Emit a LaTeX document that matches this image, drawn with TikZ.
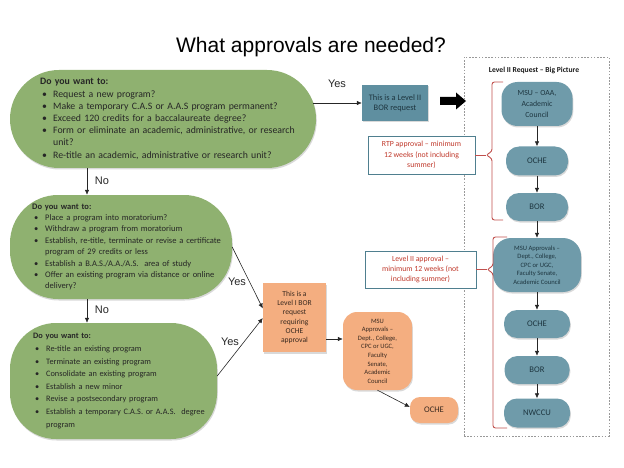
\documentclass[tikz,border=0pt]{standalone}
\usepackage{fontspec}
\setmainfont{Carlito}
\newfontfamily\arialf{Liberation Sans}
\usetikzlibrary{arrows.meta,calc,shadows}
\definecolor{gfill}{HTML}{8FB170}
\definecolor{tfill}{HTML}{6F9BAA}
\definecolor{trect}{HTML}{5F8FA0}
\definecolor{ofill}{HTML}{F4AE80}
\definecolor{rline}{HTML}{C0504D}
\definecolor{rtext}{HTML}{C0392B}
\definecolor{bline}{HTML}{4F7F8F}
\definecolor{gtxt}{HTML}{262626}
\definecolor{ttxt}{HTML}{1E3640}
\definecolor{otxt}{HTML}{3A2A20}
\newcommand\bitem[1]{\par\hangindent=13pt\hangafter=1\noindent\hspace*{2pt}\makebox[11pt][l]{\textbullet}#1\par}
\tikzset{
  softshadow/.style={drop shadow={fill=black, opacity=0.15, shadow xshift=0.8pt, shadow yshift=-1.5pt}},
  gshape/.style={fill=gfill, draw=none, inner sep=0pt, softshadow},
  gtext/.style={inner sep=0pt, align=left, text=gtxt, anchor=west},
  tbox/.style={fill=tfill, rounded corners=13pt, inner sep=0pt, align=center, text=ttxt,
    font=\fontsize{8.6}{10}\selectfont, softshadow},
  obox/.style={fill=ofill, inner sep=0pt, align=center, text=otxt, softshadow},
  rbox/.style={draw=bline, line width=0.8pt, fill=white, inner sep=0pt, align=center,
    text=rtext, font=\fontsize{7.8}{10.2}\selectfont},
  arr/.style={draw=black!85, line width=0.6pt, -{Latex[length=5pt,width=4.5pt]}},
  lbl/.style={font=\arialf\fontsize{11}{13}\selectfont, text=black!85, inner sep=0pt},
  brk/.style={draw=rline, line width=0.9pt, rounded corners=2.5pt}
}
\begin{document}
\begin{tikzpicture}[x=1pt,y=-1pt]
\useasboundingbox (0,0) rectangle (624,468);

% title
\node[font=\arialf\fontsize{21}{25}\selectfont] (title) at (311,47) {What approvals are needed?};

% green question boxes
\node[gshape, minimum width=306pt, minimum height=98pt, rounded corners=49pt] (q1) at (163,119) {};
\node[gtext, text width=270pt, font=\fontsize{9.8}{12.2}\selectfont] (q1t) at (40,119) {%
\textbf{Do you want to:}
\bitem{Request a new program?}
\bitem{Make a temporary C.A.S or A.A.S program permanent?}
\bitem{Exceed 120 credits for a\ baccalaureate degree?}
\bitem{Form or\ eliminate an academic, administrative, or research\newline unit?}
\bitem{Re-title an academic, administrative or research unit?}};

\node[gshape, minimum width=222pt, minimum height=104pt, rounded corners=48pt] (q2) at (121,247) {};
\node[gtext, text width=200pt, font=\fontsize{8.5}{11.4}\selectfont] (q2t) at (32,247) {%
\textbf{Do you want to:}
\bitem{Place a program into moratorium?}
\bitem{Withdraw a program from moratorium}
\bitem{Establish, re-title, terminate or revise a certificate\newline program of 29 credits or less}
\bitem{Establish a B.A.S./A.A./A.S.\ \ area of study}
\bitem{Offer an existing program via distance or online\newline delivery?}};

\node[gshape, minimum width=207pt, minimum height=116pt, rounded corners=46pt] (q3) at (113.5,381) {};
\node[gtext, text width=190pt, font=\fontsize{8.3}{12.6}\selectfont] (q3t) at (33,381) {%
\textbf{Do you want to:}
\bitem{Re-title an existing program}
\bitem{Terminate\ an existing program}
\bitem{Consolidate an existing program}
\bitem{Establish a new minor}
\bitem{Revise a postsecondary program}
\bitem{Establish a temporary C.A.S.\ or A.A.S.\ \ degree\newline program}};

% No arrows
\draw[arr] ([xshift=-76pt]q1.south) -- ([xshift=-34pt]q2.north);
\node[lbl] (no1) at (102,181) {No};
\draw[arr] ([xshift=-34pt]q2.south) -- ([xshift=-26.5pt]q3.north);
\node[lbl] (no2) at (102,310) {No};

% Level II request
\node[fill=trect, minimum width=66pt, minimum height=36pt, inner sep=0pt, align=center,
  text=ttxt, font=\fontsize{8.4}{10.4}\selectfont, softshadow] (l2) at (395,103) {This is a Level II\\BOR request};
\draw[arr] ([xshift=-3pt,yshift=16pt]q1.east) -- (l2.west);
\node[lbl] (yes1) at (337,84) {Yes};

% big black arrow
\fill[black] (440,97) -- (456,97) -- (456,92.5) -- (466,101) -- (456,109.5) -- (456,105) -- (440,105) -- cycle;

% big picture box
\node[draw=black!40, dash pattern=on 1.6pt off 1.6pt, line width=0.6pt, minimum width=145pt,
  minimum height=379pt, inner sep=0pt] (bp) at (536.5,246.5) {};
\node[font=\bfseries\fontsize{7.6}{9}\selectfont, text=black!90] (bpt) at (534,70) {Level II Request -- Big\ Picture};

\node[tbox, minimum width=71pt, minimum height=44pt, rounded corners=16pt,
  font=\fontsize{7.8}{10.6}\selectfont] (r1) at (537,104) {MSU -- OAA,\\Academic\\Council};
\node[tbox, minimum width=62pt, minimum height=29pt] (r2) at (537,161) {OCHE};
\node[tbox, minimum width=62pt, minimum height=28pt] (r3) at (537,207) {BOR};
\node[tbox, minimum width=88pt, minimum height=54pt, rounded corners=18pt,
  font=\fontsize{6.6}{8.6}\selectfont] (r4) at (537,265) {MSU Approvals --\\Dept., College,\\CPC or UGC,\\Faculty Senate,\\Academic Council};
\node[tbox, minimum width=66pt, minimum height=28pt] (r5) at (537,324) {OCHE};
\node[tbox, minimum width=65pt, minimum height=28pt] (r6) at (537,370) {BOR};
\node[tbox, minimum width=66pt, minimum height=29pt] (r7) at (537,413) {NWCCU};
\foreach \a/\b in {r1/r2,r2/r3,r3/r4,r4/r5,r5/r6,r6/r7}
  \draw[arr] (\a.south) -- (\b.north);

% RTP approval
\node[rbox, minimum width=107pt, minimum height=38pt] (rtp) at (421.5,155) {RTP approval -- minimum\\12 weeks (not including\\summer)};
\coordinate (b1tip) at (486,155);
\draw[brk] (503,82) -- (492,82) -- (492,151.5) -- (b1tip) -- (492,158.5) -- (492,220) -- (503,220);
\draw[draw=rline, line width=0.9pt] (rtp.east) -- (b1tip);

% Level II approval
\node[rbox, minimum width=111pt, minimum height=37pt] (l2a) at (420.5,269.5) {Level II approval --\\minimum 12 weeks (not\\including summer)};
\coordinate (b2tip) at (487,269.5);
\draw[brk] (507,237) -- (493,237) -- (493,266) -- (b2tip) -- (493,273) -- (493,428) -- (507,428);
\draw[draw=rline, line width=0.9pt] (l2a.east) -- (b2tip);

% Level I request (orange)
\node[obox, minimum width=63pt, minimum height=69pt, font=\fontsize{7.6}{9.3}\selectfont] (l1) at (294.5,317.5) {This is a\\Level I BOR\\request\\requiring\\OCHE\\approval};
\draw[arr] (q2.east) -- ([yshift=9pt]l1.west);
\node[lbl] (yes2) at (237,282) {Yes};
\draw[arr] ([yshift=5pt]q3.east) -- ([yshift=-0.5pt]l1.west);
\node[lbl] (yes3) at (230,342) {Yes};

\node[obox, minimum width=69pt, minimum height=78pt, rounded corners=14pt,
  font=\fontsize{6.6}{8.6}\selectfont] (msuo) at (377.5,351) {MSU\\Approvals --\\Dept., College,\\CPC or UGC,\\Faculty\\Senate,\\Academic\\Council};
\node[obox, minimum width=48pt, minimum height=26pt, rounded corners=10pt,
  font=\fontsize{8.6}{10}\selectfont] (ocheo) at (434,410) {OCHE};
\draw[arr] ([yshift=-21.5pt]l1.east) -- ([yshift=12pt]msuo.west);
\draw[arr] (msuo.south) -- ([yshift=3pt]ocheo.west);
\end{tikzpicture}
\end{document}
